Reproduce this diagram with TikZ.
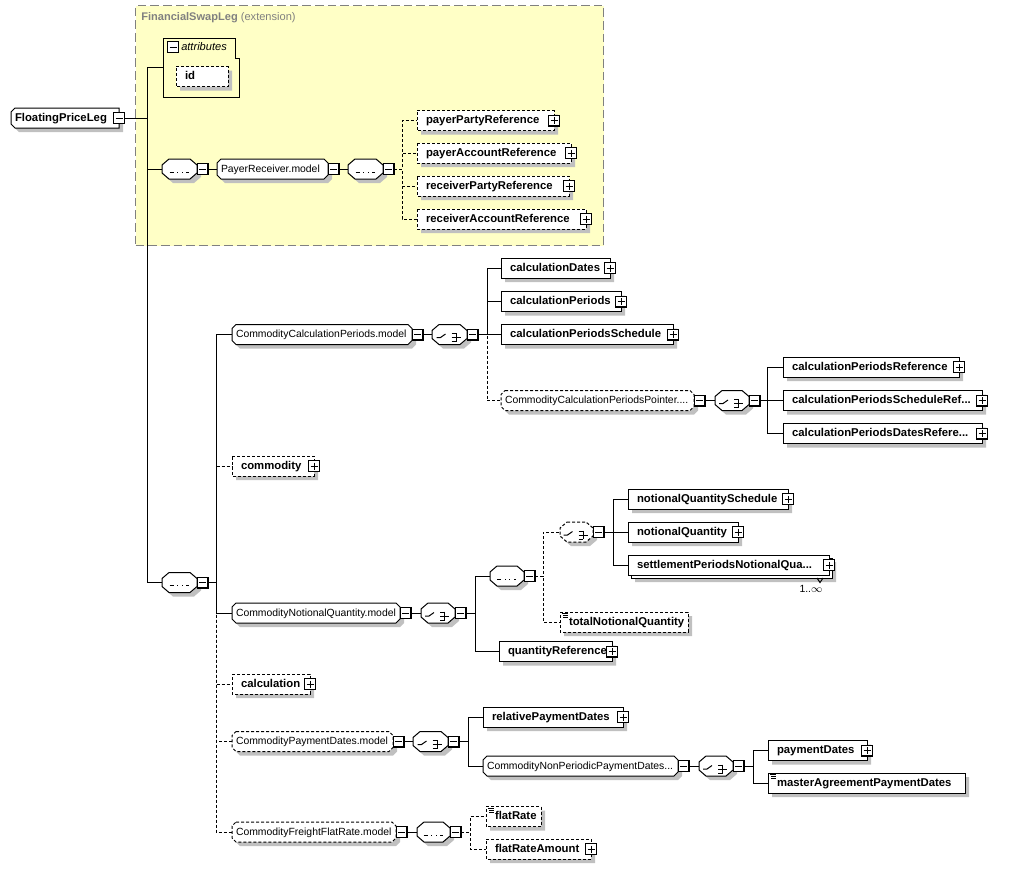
\documentclass[tikz,border=0pt]{standalone}
\usepackage{fontspec}
\setmainfont{Liberation Sans}

\def\pxu{0.75pt}
\definecolor{extfill}{HTML}{FFFFC6}
\definecolor{shadowgray}{HTML}{C0C0C0}
\pgfdeclarelayer{extlayer}
\pgfdeclarelayer{shadowlayer}
\pgfsetlayers{extlayer,shadowlayer,main}

% box shape with cut corners
\makeatletter
\newdimen\xsxa \newdimen\xsya \newdimen\xsxb \newdimen\xsyb
\newdimen\xslx \newdimen\xsrx \newdimen\xscy
\pgfkeys{/pgf/xs lx/.initial=0pt, /pgf/xs rx/.initial=0pt, /pgf/xs cy/.initial=0pt}
\pgfdeclareshape{xsbox}{%
  \inheritsavedanchors[from=rectangle]%
  \inheritanchorborder[from=rectangle]%
  \inheritanchor[from=rectangle]{center}%
  \inheritanchor[from=rectangle]{mid}%
  \inheritanchor[from=rectangle]{base}%
  \inheritanchor[from=rectangle]{north}%
  \inheritanchor[from=rectangle]{south}%
  \inheritanchor[from=rectangle]{east}%
  \inheritanchor[from=rectangle]{west}%
  \inheritanchor[from=rectangle]{north east}%
  \inheritanchor[from=rectangle]{north west}%
  \inheritanchor[from=rectangle]{south east}%
  \inheritanchor[from=rectangle]{south west}%
  \backgroundpath{%
    \southwest \xsxa=\pgf@x \xsya=\pgf@y
    \northeast \xsxb=\pgf@x \xsyb=\pgf@y
    \pgfmathsetlength\xslx{\pgfkeysvalueof{/pgf/xs lx}}%
    \pgfmathsetlength\xsrx{\pgfkeysvalueof{/pgf/xs rx}}%
    \pgfmathsetlength\xscy{\pgfkeysvalueof{/pgf/xs cy}}%
    \pgfpathmoveto{\pgfpoint{\dimexpr\xsxa+\xslx\relax}{\xsyb}}%
    \pgfpathlineto{\pgfpoint{\dimexpr\xsxb-\xsrx\relax}{\xsyb}}%
    \pgfpathlineto{\pgfpoint{\xsxb}{\dimexpr\xsyb-\xscy\relax}}%
    \pgfpathlineto{\pgfpoint{\xsxb}{\dimexpr\xsya+\xscy\relax}}%
    \pgfpathlineto{\pgfpoint{\dimexpr\xsxb-\xsrx\relax}{\xsya}}%
    \pgfpathlineto{\pgfpoint{\dimexpr\xsxa+\xslx\relax}{\xsya}}%
    \pgfpathlineto{\pgfpoint{\xsxa}{\dimexpr\xsya+\xscy\relax}}%
    \pgfpathlineto{\pgfpoint{\xsxa}{\dimexpr\xsyb-\xscy\relax}}%
    \pgfpathclose}%
}
\makeatother

% flat shadow of a node with cut corners: node, left cut, right cut, vertical cut
\newcommand\boxshadow[4]{%
  \fill[shadowgray] ([shift={(3pt+#2,-3pt)}]#1.north west) -- ([shift={(3pt-#3,-3pt)}]#1.north east)
    -- ([shift={(3pt,-3pt-#4)}]#1.north east) -- ([shift={(3pt,-3pt+#4)}]#1.south east)
    -- ([shift={(3pt-#3,-3pt)}]#1.south east) -- ([shift={(3pt+#2,-3pt)}]#1.south west)
    -- ([shift={(3pt,-3pt+#4)}]#1.south west) -- ([shift={(3pt,-3pt-#4)}]#1.north west) -- cycle;}
\newcommand\simpleicon[1]{%
  \draw[line width=0.5pt] ([xshift=1.5pt,yshift=-1.2pt]#1.north west) -- ++(4.5pt,0);
  \draw[line width=0.5pt] ([xshift=2.6pt,yshift=-2.7pt]#1.north west) -- ++(3.4pt,0);
  \draw[line width=0.5pt] ([xshift=2.6pt,yshift=-4.2pt]#1.north west) -- ++(3.4pt,0);}

\tikzset{
  conn/.style={line width=0.75pt},
  opt/.style={dash pattern=on 2.25pt off 1.5pt},
  box/.style={shape=xsbox, draw, fill=white, line width=0.75pt, outer sep=0pt, anchor=west, inner ysep=0pt,
    minimum height=20*\pxu, text height=6.3pt, text depth=1.8pt, align=left},
  ebox/.style={box, inner xsep=9*\pxu, font=\fontsize{8.5}{10}\selectfont\bfseries,
    /utils/exec={\pgfmathsetlengthmacro\boxtw{(#1-18)*\pxu}}, text width=\boxtw, minimum width=#1*\pxu},
  elem/.style={ebox=#1},
  grp/.style={box, xs lx=3pt, xs rx=3pt, xs cy=3pt,
    inner xsep=4*\pxu, font=\fontsize{7.8}{9}\selectfont,
    /utils/exec={\pgfmathsetlengthmacro\boxtw{(#1-8)*\pxu}}, text width=\boxtw, minimum width=#1*\pxu},
  comp/.style={box, xs lx=5.25pt, xs rx=5.25pt, xs cy=4.5pt, inner xsep=0pt, minimum width=#1*\pxu},
  seqc/.style={comp=#1, path picture={
    \begin{scope}[shift={(path picture bounding box.center)}, x=\pxu, y=\pxu, solid, line width=0.75pt]
      \draw (-10,0) -- (9,0);
      \foreach \dx in {-6,-1.5,3} \fill (\dx,-1.75) rectangle ++(3.5,3.5);
    \end{scope}}},
  chc/.style={comp=#1, path picture={
    \begin{scope}[shift={(path picture bounding box.center)}, x=\pxu, y=\pxu, solid, line width=0.75pt]
      \draw (-13,0) -- (-9,0) -- (-4,3.5);
      \foreach \dy in {4,0,-4} {\fill (-0.5,\dy-1.4) rectangle ++(2.8,2.8); \draw (2,\dy) -- (6.5,\dy);}
      \draw (6.5,4.4) -- (6.5,-4.4) (6.5,0) -- (11,0);
    \end{scope}}},
  btn/.style={draw, fill=white, line width=0.75pt, rectangle, outer sep=0pt, minimum size=11*\pxu, inner sep=0pt},
  btnm/.style={btn, path picture={
    \draw[solid, line width=1.5pt] (path picture bounding box.north east) -- (path picture bounding box.south east)
      -- (path picture bounding box.south west);
    \draw[solid, line width=0.75pt] ([xshift=2*\pxu]path picture bounding box.west) -- ([xshift=-2*\pxu]path picture bounding box.east);}},
  btnp/.style={btn, path picture={
    \draw[solid, line width=1.5pt] (path picture bounding box.north east) -- (path picture bounding box.south east)
      -- (path picture bounding box.south west);
    \draw[solid, line width=0.75pt] ([xshift=2*\pxu]path picture bounding box.west) -- ([xshift=-2*\pxu]path picture bounding box.east)
      ([yshift=-2*\pxu]path picture bounding box.north) -- ([yshift=2*\pxu]path picture bounding box.south);}},
}

\begin{document}
\begin{tikzpicture}[x=\pxu, y=-\pxu]
  \useasboundingbox (0,0) rectangle (1017,869);

  % extension area
  \begin{pgfonlayer}{extlayer}
    \node[draw=gray, fill=extfill, line width=0.75pt, dash pattern=on 6.5pt off 3pt, anchor=north west,
      minimum width=468*\pxu, minimum height=240*\pxu, inner sep=0pt] (ext) at (135,5) {};
  \end{pgfonlayer}
  \node[anchor=west, text=gray, inner sep=0pt, font=\fontsize{8.3}{10}\selectfont] (extlbl) at (141,18)
    {\textbf{FinancialSwapLeg} (extension)};

  % attributes
  \node[anchor=north west, minimum width=76*\pxu, minimum height=59*\pxu, inner sep=0pt] (attr) at (163,38) {};
  \draw[conn] (attr.north west) -- ++(72,0) -- ++(0,20) -- ++(4,0) |- (attr.south west) -- cycle;
  \node[btnm] (attrb) at (173,47) {};
  \node[anchor=west, inner sep=0pt, font=\fontsize{8.3}{10}\selectfont\itshape] (attrlbl) at (181,47) {attributes};
  \node[elem=52, opt] (id) at (176,76.5) {id};

  % root
  \node[grp=108, xs rx=0pt, font=\fontsize{8.5}{10}\selectfont\bfseries] (fpl) at (11,118) {FloatingPriceLeg};
  \node[btnm] (fplb) at (fpl.east) {};

  % payer / receiver
  \node[seqc=35] (seq1) at (162,169) {};
  \node[btnm, anchor=west] (seq1b) at (seq1.east) {};
  \node[grp=111] (prm) at (217,169) {PayerReceiver.model};
  \node[btnm, anchor=west] (prmb) at (prm.east) {};
  \node[seqc=35] (seq2) at (348,169) {};
  \node[btnm, anchor=west] (seq2b) at (seq2.east) {};
  \node[elem=137, opt] (ppr) at (417,120.5) {payerPartyReference};
  \node[btnp] (pprb) at (ppr.east) {};
  \node[elem=154, opt] (par) at (417,153) {payerAccountReference};
  \node[btnp] (parb) at (par.east) {};
  \node[elem=152, opt] (rpr) at (417,186) {receiverPartyReference};
  \node[btnp] (rprb) at (rpr.east) {};
  \node[elem=169, opt] (rar) at (417,219) {receiverAccountReference};
  \node[btnp] (rarb) at (rar.east) {};

  % main sequence
  \node[seqc=35] (seq3) at (162,582.5) {};
  \node[btnm, anchor=west] (seq3b) at (seq3.east) {};

  % calculation periods
  \node[grp=180] (ccp) at (232,334.5) {CommodityCalculationPeriods.model};
  \node[btnm, anchor=west] (ccpb) at (ccp.east) {};
  \node[chc=35] (ch1) at (432,334.5) {};
  \node[btnm, anchor=west] (ch1b) at (ch1.east) {};
  \node[elem=109] (cd) at (501,268) {calculationDates};
  \node[btnp] (cdb) at (cd.east) {};
  \node[elem=120] (cp) at (501,301.5) {calculationPeriods};
  \node[btnp] (cpb) at (cp.east) {};
  \node[elem=172] (cps) at (501,334.5) {calculationPeriodsSchedule};
  \node[btnp] (cpsb) at (cps.east) {};
  \node[grp=193, opt] (ccpp) at (501,400.5) {CommodityCalculationPeriodsPointer....};
  \node[btnm, anchor=west] (ccppb) at (ccpp.east) {};
  \node[chc=34] (ch2) at (715,400.5) {};
  \node[btnm, anchor=west] (ch2b) at (ch2.east) {};
  \node[elem=176] (cpr) at (783,367) {calculationPeriodsReference};
  \node[btnp] (cprb) at (cpr.east) {};
  \node[elem=199] (cpsr) at (783,400.5) {calculationPeriodsScheduleRef...};
  \node[btnp] (cpsrb) at (cpsr.east) {};
  \node[elem=199] (cpdr) at (783,433.5) {calculationPeriodsDatesRefere...};
  \node[btnp] (cpdrb) at (cpdr.east) {};

  % commodity
  \node[elem=82, opt] (com) at (232,466) {commodity};
  \node[btnp] (comb) at (com.east) {};

  % notional quantity
  \node[grp=168] (cnq) at (232,613) {CommodityNotionalQuantity.model};
  \node[btnm, anchor=west] (cnqb) at (cnq.east) {};
  \node[chc=34] (ch3) at (421,613) {};
  \node[btnm, anchor=west] (ch3b) at (ch3.east) {};
  \node[seqc=34] (seq4) at (490,576) {};
  \node[btnm, anchor=west] (seq4b) at (seq4.east) {};
  \node[chc=33, opt] (ch4) at (560,532) {};
  \node[btnm, anchor=west] (ch4b) at (ch4.east) {};
  \node[elem=160] (nqs) at (628,499) {notionalQuantitySchedule};
  \node[btnp] (nqsb) at (nqs.east) {};
  \node[elem=110] (nq) at (628,532) {notionalQuantity};
  \node[btnp] (nqb) at (nq.east) {};
  \node[elem=201] (spnqbk) at (631,568) {};
  \node[ebox=201] (spnq) at (628,565) {settlementPeriodsNotionalQua...};
  \node[btnp] (spnqb) at (spnq.east) {};
  \draw[conn] (817,578) -- (820,582.5) -- (823,578);
  \node[inner sep=0pt, font=\fontsize{7.8}{9}\selectfont] (spnqocc) at (811,589) {1..$\infty$};
  \node[elem=128, opt] (tnq) at (560,622) {totalNotionalQuantity};
  \simpleicon{tnq}
  \node[elem=113] (qr) at (499,651.5) {quantityReference};
  \node[btnp] (qrb) at (qr.east) {};

  % calculation
  \node[elem=78, opt] (calc) at (232,684) {calculation};
  \node[btnp] (calcb) at (calc.east) {};

  % payment dates
  \node[grp=161, opt] (cpd) at (232,741.5) {CommodityPaymentDates.model};
  \node[btnm, anchor=west] (cpdb) at (cpd.east) {};
  \node[chc=35] (ch5) at (413,741.5) {};
  \node[btnm, anchor=west] (ch5b) at (ch5.east) {};
  \node[elem=140] (rpd) at (483,717) {relativePaymentDates};
  \node[btnp] (rpdb) at (rpd.east) {};
  \node[grp=195] (cnppd) at (483,766) {CommodityNonPeriodicPaymentDates...};
  \node[btnm, anchor=west] (cnppdb) at (cnppd.east) {};
  \node[chc=34] (ch6) at (699,766) {};
  \node[btnm, anchor=west] (ch6b) at (ch6.east) {};
  \node[elem=99] (pd) at (768,750.5) {paymentDates};
  \node[btnp] (pdb) at (pd.east) {};
  \node[elem=197] (mapd) at (768,783) {masterAgreementPaymentDates};
  \simpleicon{mapd}

  % freight flat rate
  \node[grp=164, opt] (cffr) at (232,832) {CommodityFreightFlatRate.model};
  \node[btnm, anchor=west] (cffrb) at (cffr.east) {};
  \node[seqc=33] (seq5) at (417,832) {};
  \node[btnm, anchor=west] (seq5b) at (seq5.east) {};
  \node[elem=55, opt] (fr) at (486,816.5) {flatRate};
  \simpleicon{fr}
  \node[elem=105, opt] (fra) at (486,849) {flatRateAmount};
  \node[btnp] (frab) at (fra.east) {};

  % shadows
  \begin{pgfonlayer}{shadowlayer}
    \foreach \n in {id,ppr,par,rpr,rar,cd,cp,cps,cpr,cpsr,cpdr,com,nqs,nq,spnqbk,tnq,qr,calc,rpd,pd,mapd,fr,fra}
      \boxshadow{\n}{0pt}{0pt}{0pt};
    \foreach \n in {prm,ccp,ccpp,cnq,cpd,cnppd,cffr} \boxshadow{\n}{3pt}{3pt}{3pt};
    \boxshadow{fpl}{3pt}{0pt}{3pt};
    \foreach \n in {seq1,seq2,seq3,ch1,ch2,ch3,seq4,ch4,ch5,ch6,seq5} \boxshadow{\n}{5.25pt}{5.25pt}{4.5pt};
  \end{pgfonlayer}

  % connectors
  \coordinate (b1) at (147,0);
  \coordinate (b2) at (402,0);
  \coordinate (b3) at (216,0);
  \coordinate (b4) at (487,0);
  \coordinate (b5) at (767,0);
  \coordinate (b6) at (475,0);
  \coordinate (b7) at (543,0);
  \coordinate (b8) at (613,0);
  \coordinate (b9) at (468,0);
  \coordinate (b10) at (753,0);
  \coordinate (b11) at (470,0);
  \foreach \c in {attr,seq1,seq3} \draw[conn] (fplb.east) -- (fplb.east -| b1) |- (\c.west);
  \draw[conn] (seq1b.east) -- (prm.west);
  \draw[conn] (prmb.east) -- (seq2.west);
  \foreach \c in {ppr,par,rpr,rar} \draw[conn, opt] (seq2b.east) -- (seq2b.east -| b2) |- (\c.west);
  \foreach \c in {com,calc,cpd,cffr} \draw[conn, opt] (seq3b.east) -- (seq3b.east -| b3) |- (\c.west);
  \foreach \c in {ccp,cnq} \draw[conn] (seq3b.east) -- (seq3b.east -| b3) |- (\c.west);
  \draw[conn] (ccpb.east) -- (ch1.west);
  \draw[conn, opt] (ch1b.east) -- (ch1b.east -| b4) |- (ccpp.west);
  \foreach \c in {cd,cp,cps} \draw[conn] (ch1b.east) -- (ch1b.east -| b4) |- (\c.west);
  \draw[conn] (ccppb.east) -- (ch2.west);
  \foreach \c in {cpr,cpsr,cpdr} \draw[conn] (ch2b.east) -- (ch2b.east -| b5) |- (\c.west);
  \draw[conn] (cnqb.east) -- (ch3.west);
  \foreach \c in {seq4,qr} \draw[conn] (ch3b.east) -- (ch3b.east -| b6) |- (\c.west);
  \foreach \c in {ch4,tnq} \draw[conn, opt] (seq4b.east) -- (seq4b.east -| b7) |- (\c.west);
  \foreach \c in {nqs,nq,spnq} \draw[conn] (ch4b.east) -- (ch4b.east -| b8) |- (\c.west);
  \draw[conn] (cpdb.east) -- (ch5.west);
  \foreach \c in {rpd,cnppd} \draw[conn] (ch5b.east) -- (ch5b.east -| b9) |- (\c.west);
  \draw[conn] (cnppdb.east) -- (ch6.west);
  \foreach \c in {pd,mapd} \draw[conn] (ch6b.east) -- (ch6b.east -| b10) |- (\c.west);
  \draw[conn] (cffrb.east) -- (seq5.west);
  \foreach \c in {fr,fra} \draw[conn, opt] (seq5b.east) -- (seq5b.east -| b11) |- (\c.west);
\end{tikzpicture}
\end{document}
